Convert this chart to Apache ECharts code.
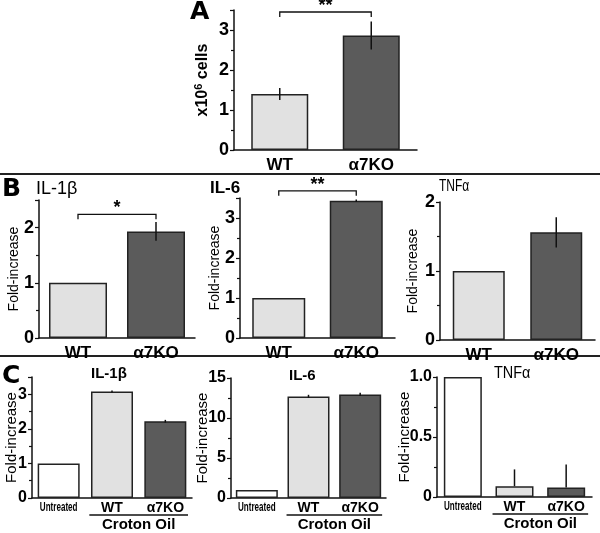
<!DOCTYPE html>
<html>
<head>
<meta charset="utf-8">
<script src="https://cdn.jsdelivr.net/npm/echarts@6/dist/echarts.min.js"></script>
<style>
  html, body { margin: 0; padding: 0; background: #fff; }
  #main { width: 600px; height: 533px; }
</style>
</head>
<body>
<div id="main"></div>
<script>
// categories
var catsAB = ['WT', 'α7KO'];
var catsC = ['Untreated', 'WT', 'α7KO'];

// A: cell counts (x10^6)
var cellsVal = [1.4, 2.86];
var cellsErr = [0.15, 0.35];

// B: fold-increase
var bIl1Val = [1, 1.93];
var bIl1Err = [0, 0.17];
var bIl6Val = [1, 3.43];
var bIl6Err = [0, 0.03];
var bTnfVal = [1, 1.56];
var bTnfErr = [0, 0.22];

// C: croton oil
var cIl1Val = [1, 3.08, 2.22];
var cIl1Err = [0, 0.03, 0.04];
var cIl6Val = [1, 12.7, 12.95];
var cIl6Err = [0, 0.2, 0.2];
var cTnfVal = [1, 0.09, 0.08];
var cTnfErr = [0, 0.14, 0.19];

// significance brackets [fromIdx, toIdx, y, text]
var aSig = [[0, 1, 3.45, '**']];
var bIl1Sig = [[0, 1, 2.24, '*']];
var bIl6Sig = [[0, 1, 3.68, '**']];

var FONT = "'Liberation Sans', Arial, sans-serif";
var fills = { 'Untreated': '#ffffff', 'WT': '#e1e1e1', 'α7KO': '#5b5b5b' };

// each panel: grid box + axis setup
var panels = [
    { box: [234, 10, 183, 140], cats: catsAB, val: cellsVal, err: cellsErr, sig: aSig, max: 3.5, interval: 1,
      name: 'x10{sup|6} cells', nameBold: true, nameSize: 16, nameGap: 22, labelSize: 18, bw: 57 },
    { box: [39, 200, 156, 138], cats: catsAB, val: bIl1Val, err: bIl1Err, sig: bIl1Sig, max: 2.5, interval: 1,
      name: 'Fold-increase', nameSize: 14, nameGap: 18, labelSize: 18, bw: 58 },
    { box: [240, 198, 155, 140], cats: catsAB, val: bIl6Val, err: bIl6Err, sig: bIl6Sig, max: 3.5, interval: 1,
      name: 'Fold-increase', nameSize: 14, nameGap: 18, labelSize: 18, bw: 53 },
    { box: [440, 202, 155, 138], cats: catsAB, val: bTnfVal, err: bTnfErr, sig: [], max: 2, interval: 1,
      name: 'Fold-increase', nameSize: 14, nameGap: 20, labelSize: 18, bw: 52 },
    { box: [32, 377, 160, 121], cats: catsC, val: cIl1Val, err: cIl1Err, sig: [], max: 3.5, interval: 1,
      name: 'Fold-increase', nameSize: 15, nameGap: 13, labelSize: 16, bw: 42 },
    { box: [231, 378, 155, 120], cats: catsC, val: cIl6Val, err: cIl6Err, sig: [], max: 15, interval: 5,
      name: 'Fold-increase', nameSize: 15, nameGap: 21, labelSize: 16, bw: 42 },
    { box: [437, 377, 155, 120], cats: catsC, val: cTnfVal, err: cTnfErr, sig: [], max: 1, interval: 0.5,
      name: 'Fold-increase', nameSize: 15, nameGap: 25, labelSize: 16, bw: 38, upOnly: true, dec: 1 }
];

var grids = [], xAxes = [], yAxes = [], series = [];

panels.forEach(function (p, i) {
    var big = p.cats.length === 2;
    grids.push({ left: p.box[0], top: p.box[1], width: p.box[2], height: p.box[3], outerBoundsMode: 'none' });
    xAxes.push({
        type: 'category', gridIndex: i, data: p.cats,
        axisLine: { lineStyle: { color: '#111', width: 1.5 } },
        axisTick: { show: false },
        axisLabel: {
            interval: 0, margin: big ? 6 : 3,
            // 'Untreated' is drawn condensed as a graphic below
            formatter: function (v) { return v === 'Untreated' ? '' : v; },
            fontFamily: FONT, fontWeight: 'bold', fontSize: big ? 17 : 14, lineHeight: big ? 18 : 14, color: '#000'
        }
    });
    yAxes.push({
        type: 'value', gridIndex: i, min: 0, max: p.max, interval: p.interval,
        splitLine: { show: false },
        axisLine: { show: true, lineStyle: { color: '#111', width: 1.5 } },
        axisTick: { show: true, length: 4, lineStyle: { color: '#111', width: 1.2 } },
        minorTick: { show: true, splitNumber: 2, length: 3, lineStyle: { color: '#111', width: 1.2 } },
        axisLabel: {
            margin: 5, color: '#000', fontFamily: FONT, fontWeight: 'bold', fontSize: p.labelSize,
            formatter: function (v) {
                var r = v / p.interval;
                if (Math.abs(r - Math.round(r)) > 1e-6) return '';
                return v === 0 ? '0' : (p.dec ? v.toFixed(p.dec) : String(v));
            }
        },
        name: p.name, nameLocation: 'middle', nameGap: p.nameGap, nameRotate: 90, nameMoveOverlap: false,
        nameTextStyle: {
            fontFamily: FONT, fontWeight: p.nameBold ? 'bold' : 'normal', fontSize: p.nameSize, color: '#000',
            rich: { sup: { fontFamily: FONT, fontWeight: 'bold', fontSize: 11, verticalAlign: 'top', color: '#000', padding: [0, 0, 8, 0] } }
        }
    });

    series.push({
        type: 'bar', xAxisIndex: i, yAxisIndex: i, barWidth: p.bw, z: 2,
        data: p.val.map(function (v, k) {
            return { value: v, itemStyle: { color: fills[p.cats[k]], borderColor: '#222', borderWidth: 1.5 } };
        })
    });

    var errData = [];
    p.err.forEach(function (e, k) {
        if (e > 0) errData.push([k, p.val[k] + e, p.upOnly ? p.val[k] : p.val[k] - e]);
    });
    series.push({
        type: 'custom', xAxisIndex: i, yAxisIndex: i, z: 3, data: errData,
        renderItem: function (params, api) {
            var hi = api.coord([api.value(0), api.value(1)]);
            var lo = api.coord([api.value(0), api.value(2)]);
            return { type: 'line', shape: { x1: hi[0], y1: hi[1], x2: lo[0], y2: lo[1] }, style: { stroke: '#111', lineWidth: 1.5 } };
        }
    });

    if (p.sig.length) {
        var sig = p.sig;
        series.push({
            type: 'custom', xAxisIndex: i, yAxisIndex: i, z: 3, clip: false,
            data: sig.map(function (s) { return [s[0], s[1], s[2]]; }),
            renderItem: function (params, api) {
                var a = api.coord([api.value(0), api.value(2)]);
                var b = api.coord([api.value(1), api.value(2)]);
                return {
                    type: 'group', children: [
                        { type: 'polyline', shape: { points: [[a[0], a[1] + 5], [a[0], a[1]], [b[0], b[1]], [b[0], b[1] + 5]] },
                          style: { stroke: '#111', lineWidth: 1.3, fill: null } },
                        { type: 'text', x: (a[0] + b[0]) / 2, y: a[1] + 3,
                          style: { text: sig[params.dataIndex][3], fill: '#000', font: 'bold 18px ' + FONT, align: 'center', verticalAlign: 'bottom' } }
                    ]
                };
            }
        });
    }
});

var labels = [
    { type: 'text', left: 190, top: 0, style: { text: 'A', font: 'bold 25px "DejaVu Sans", sans-serif', fill: '#000' } },
    { type: 'text', left: 2, top: 177, style: { text: 'B', font: 'bold 25px "DejaVu Sans", sans-serif', fill: '#000' } },
    { type: 'text', left: 2, top: 364, style: { text: 'C', font: 'bold 25px "DejaVu Sans", sans-serif', fill: '#000' } },
    { type: 'text', left: 36, top: 180, style: { text: 'IL-1β', font: '18px ' + FONT, fill: '#000' } },
    { type: 'text', left: 210, top: 180, style: { text: 'IL-6', font: 'bold 17px ' + FONT, fill: '#000' } },
    { type: 'text', x: 439, y: 179, scaleX: 0.75, style: { text: 'TNFα', font: '16px ' + FONT, fill: '#000' } },
    { type: 'text', left: 91, top: 366, style: { text: 'IL-1β', font: 'bold 15px ' + FONT, fill: '#000' } },
    { type: 'text', left: 289, top: 368, style: { text: 'IL-6', font: 'bold 15px ' + FONT, fill: '#000' } },
    { type: 'text', x: 494, y: 365, scaleX: 0.85, style: { text: 'TNFα', font: '17px ' + FONT, fill: '#000' } },
    { type: 'line', shape: { x1: 0, y1: 174, x2: 600, y2: 174 }, style: { stroke: '#222', lineWidth: 2 } },
    { type: 'line', shape: { x1: 0, y1: 356, x2: 600, y2: 356 }, style: { stroke: '#222', lineWidth: 2 } }
];

var myChart = echarts.init(document.getElementById('main'));
myChart.setOption({
    animation: false,
    grid: grids, xAxis: xAxes, yAxis: yAxes, series: series,
    graphic: labels
});

// "Untreated" label (condensed) and "Croton Oil" underline for panel C
var extra = [];
[4, 5, 6].forEach(function (i) {
    var x0 = myChart.convertToPixel({ xAxisIndex: i }, 'Untreated');
    var x1 = myChart.convertToPixel({ xAxisIndex: i }, 'WT');
    var x2 = myChart.convertToPixel({ xAxisIndex: i }, 'α7KO');
    var yb = myChart.convertToPixel({ yAxisIndex: i }, 0);
    var half = panels[i].box[2] / 6;
    var l = x1 - half * 0.85, r = x2 + half * 0.85;
    extra.push({ type: 'text', x: x0, y: yb + 3, scaleX: 0.62,
                 style: { text: 'Untreated', font: 'bold 13px ' + FONT, fill: '#000', align: 'center', verticalAlign: 'top' } });
    extra.push({ type: 'line', shape: { x1: l, y1: yb + 17, x2: r, y2: yb + 17 }, style: { stroke: '#111', lineWidth: 1.3 } });
    extra.push({ type: 'text', x: (l + r) / 2, y: yb + 19, style: { text: 'Croton Oil', font: 'bold 15px ' + FONT, fill: '#000', align: 'center', verticalAlign: 'top' } });
});
myChart.setOption({ graphic: labels.concat(extra) });
</script>
</body>
</html>
